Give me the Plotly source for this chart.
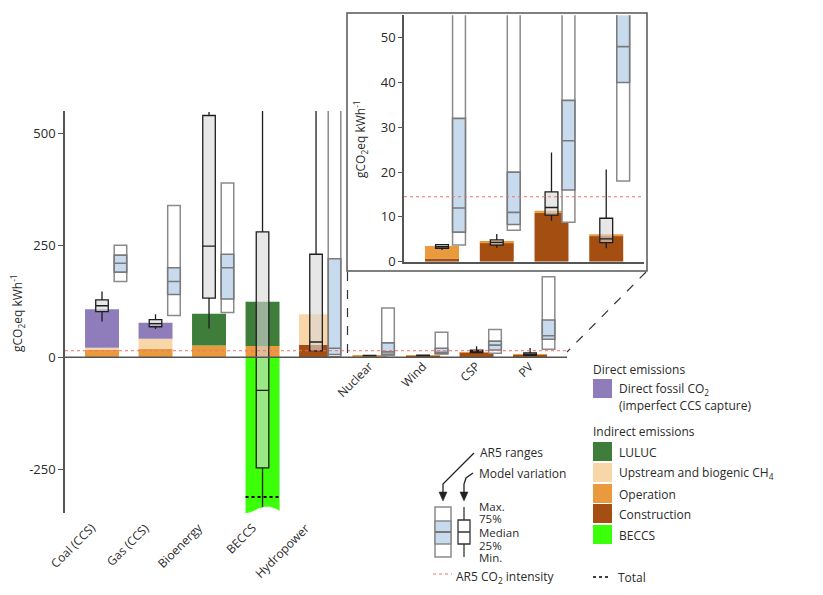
import plotly.graph_objects as go
import numpy as np

W, H = 823, 595
OX, OY = 8, 8  # page body margin of the browser
def px(x): return (x - OX) / W
def py(y): return 1 - (y - OY) / H

# ---------------- data ----------------
categories = ["Coal (CCS)", "Gas (CCS)", "Bioenergy", "BECCS", "Hydropower",
              "Nuclear", "Wind", "CSP", "PV"]
# stacked life-cycle components (gCO2eq/kWh)
construction  = [0, 0, 0, 0, 28, 0.7, 4.3, 10.9, 5.8]
operation     = [17, 19, 26, 25, 0, 2.8, 0.3, 0.5, 0.3]
upstream      = [4, 22, 0, 0, 68, 0, 0, 0, 0]
luluc         = [0, 0, 71, 99, 0, 0, 0, 0, 0]
direct_fossil = [86, 36, 0, 0, 0, 0, 0, 0, 0]
beccs         = [0, 0, 0, -436, 0, 0, 0, 0, 0]

# model variation (box plots)
model_min = [80, 63, 64, -340, 12, 2.6, 3.1, 9.1, 3.0]
model_q1  = [102, 68, 132, -247, 14, 3.0, 3.7, 10.4, 4.25]
model_med = [115, 75, 248, -74, 34, 3.35, 4.3, 12.1, 5.1]
model_q3  = [128, 84, 540, 280, 230, 3.8, 4.85, 15.6, 9.7]
model_max = [147, 96, 548, 700, 700, 3.9, 6.2, 24.4, 20.6]

# AR5 ranges (None = not available)
ar5_min = [169, 93, 100, None, 1, 3.7, 7, 8.8, 18]
ar5_q1  = [190, 140, 130, None, 6, 6.6, 8.3, 16, 40]
ar5_med = [210, 169, 200, None, 20, 12, 11, 27, 48]
ar5_q3  = [228, 200, 230, None, 220, 32, 20, 36, 83]
ar5_max = [250, 339, 389, None, 2200, 110, 56, 62, 180]

ar5_intensity = 14.5
main_ticks = [-250, 0, 250, 500]
inset_ticks = [0, 10, 20, 30, 40, 50]
inset_first = 5  # Nuclear onward shown in the inset

# ---------------- style ----------------
C_DIRECT = "#8E7DBA"
C_LULUC = "#3F7D3A"
C_UP = "#F9D6A8"
C_OP = "#E99A3C"
C_CON = "#A54E12"
C_BECCS = "#3CFF0A"
C_BLUE = "#C7DAEE"
C_GREY = "#8a8a8a"
C_RED = "#F07070"
TXT = "#2a2a2a"
FONT = "Open Sans"

BAR_W = 0.635
BOX_W = 0.235
AR5_OFF = 0.345

fig = go.Figure()

components = [
    ("Construction", construction, C_CON),
    ("Operation", operation, C_OP),
    ("Upstream", upstream, C_UP),
    ("LULUC", luluc, C_LULUC),
    ("Direct", direct_fossil, C_DIRECT),
]

def add_panel(sl, xa, ya, bar_w, ar5_off):
    n = len(categories[sl])
    idx = np.arange(n, dtype=float)
    base = np.zeros(n)
    for name, vals, col in components:
        v = np.array(vals[sl], dtype=float)
        fig.add_trace(go.Bar(x=idx, y=v, base=base.copy(), width=bar_w,
                             marker=dict(color=col, line=dict(width=0)),
                             xaxis=xa, yaxis=ya, showlegend=False, hoverinfo="skip"))
        base = base + v
    bv = np.array(beccs[sl], dtype=float)
    if np.any(bv != 0):
        fig.add_trace(go.Bar(x=idx, y=bv, base=np.zeros(n), width=bar_w,
                             marker=dict(color=C_BECCS, line=dict(width=0)),
                             xaxis=xa, yaxis=ya, showlegend=False, hoverinfo="skip"))
        total = base + bv
        for i in range(n):
            if bv[i] != 0:
                fig.add_trace(go.Scatter(x=[idx[i] - bar_w / 2, idx[i] + bar_w / 2],
                                         y=[total[i], total[i]], mode="lines",
                                         line=dict(color="black", width=2, dash="dot"),
                                         xaxis=xa, yaxis=ya, showlegend=False, hoverinfo="skip"))
    # AR5 ranges
    keep = [i for i, v in enumerate(ar5_min[sl]) if v is not None]
    ax = idx[keep] + ar5_off
    amin = np.array([ar5_min[sl][i] for i in keep], dtype=float)
    amax = np.array([ar5_max[sl][i] for i in keep], dtype=float)
    fig.add_trace(go.Bar(x=ax, y=amax - amin, base=amin, width=BOX_W,
                         marker=dict(color="white", line=dict(color=C_GREY, width=1.5)),
                         xaxis=xa, yaxis=ya, showlegend=False, hoverinfo="skip"))
    q1 = [ar5_q1[sl][i] for i in keep]
    q3 = [ar5_q3[sl][i] for i in keep]
    fig.add_trace(go.Box(x=ax, q1=q1, median=[ar5_med[sl][i] for i in keep], q3=q3,
                         lowerfence=q1, upperfence=q3, width=BOX_W, orientation="v",
                         fillcolor=C_BLUE, line=dict(color="#7a7a7a", width=1.6),
                         whiskerwidth=0, boxpoints=False,
                         xaxis=xa, yaxis=ya, showlegend=False, hoverinfo="skip"))
    # model variation
    fig.add_trace(go.Box(x=idx, q1=model_q1[sl], median=model_med[sl], q3=model_q3[sl],
                         lowerfence=model_min[sl], upperfence=model_max[sl],
                         width=BOX_W, orientation="v",
                         fillcolor="rgba(215,215,215,0.6)", line=dict(color="#1e1e1e", width=1.3),
                         whiskerwidth=0, boxpoints=False,
                         xaxis=xa, yaxis=ya, showlegend=False, hoverinfo="skip"))

add_panel(slice(0, len(categories)), "x", "y", BAR_W, AR5_OFF)
add_panel(slice(inset_first, len(categories)), "x2", "y2", 0.62, 0.31)

axis_common = dict(showgrid=False, zeroline=False, automargin=False)
fig.update_layout(
    width=W, height=H, autosize=False,
    margin=dict(l=0, r=0, t=0, b=0, pad=0),
    paper_bgcolor="white", plot_bgcolor="rgba(0,0,0,0)",
    barmode="overlay", boxmode="overlay",
    font=dict(family=FONT, size=12, color=TXT),
    xaxis=dict(domain=[px(65), px(567)], range=[-0.6916, 8.69], showticklabels=False,
               ticks="", showline=False, **axis_common),
    yaxis=dict(domain=[py(513), py(111)], range=[-348, 550], tickvals=main_ticks,
               ticktext=[str(t) for t in main_ticks],
               ticks="outside", ticklen=5, tickwidth=1.3, tickcolor="#555",
               showline=True, linecolor="#555", linewidth=1.5,
               tickfont=dict(family=FONT, size=13, color=TXT), **axis_common),
    xaxis2=dict(domain=[px(404), px(644)], range=[-0.695, 3.69], showticklabels=False,
                ticks="", showline=True, linecolor="#555", linewidth=1.5,
                anchor="y2", **axis_common),
    yaxis2=dict(domain=[py(261.7), py(15.3)], range=[0, 55], tickvals=inset_ticks,
                ticks="outside", ticklen=4, tickwidth=1.3, tickcolor="#555",
                showline=True, linecolor="#555", linewidth=1.5, anchor="x2",
                tickfont=dict(family=FONT, size=13, color=TXT), **axis_common),
)

shapes = []
# zero line and AR5 intensity lines
shapes.append(dict(type="line", xref="x domain", yref="y", x0=0, x1=1, y0=0, y1=0,
                   line=dict(color="#555", width=1.5), layer="above"))
shapes.append(dict(type="line", xref="x domain", yref="y", x0=0, x1=1,
                   y0=ar5_intensity, y1=ar5_intensity,
                   line=dict(color=C_RED, width=1, dash="dot"), layer="above"))
shapes.append(dict(type="line", xref="x2 domain", yref="y2", x0=0, x1=1,
                   y0=ar5_intensity, y1=ar5_intensity,
                   line=dict(color=C_RED, width=1, dash="dot"), layer="above"))
# inset frame and connectors
shapes.append(dict(type="rect", xref="paper", yref="paper", x0=px(347), x1=px(647),
                   y0=py(271), y1=py(13), line=dict(color="#555", width=1.5)))
shapes.append(dict(type="line", xref="paper", yref="paper", x0=px(347.5), x1=px(347.5),
                   y0=py(272), y1=py(357), line=dict(color="#333", width=1.2, dash="dash")))
shapes.append(dict(type="line", xref="paper", yref="paper", x0=px(646), x1=px(567),
                   y0=py(272), y1=py(352), line=dict(color="#333", width=1.2, dash="dash")))

def rect(x0, y0, x1, y1, fill, line_col=None, lw=0):
    shapes.append(dict(type="rect", xref="paper", yref="paper", x0=px(x0), x1=px(x1),
                       y0=py(y1), y1=py(y0), fillcolor=fill,
                       line=dict(color=line_col or fill, width=lw)))

def seg(x0, y0, x1, y1, col="#222", lw=1.3, dash=None):
    d = dict(color=col, width=lw)
    if dash:
        d["dash"] = dash
    shapes.append(dict(type="line", xref="paper", yref="paper", x0=px(x0), x1=px(x1),
                       y0=py(y0), y1=py(y1), line=d))

def path(points, col="#222", lw=1.3, fill=None):
    s = "M " + " L ".join(f"{px(a):.5f},{py(b):.5f}" for a, b in points)
    if fill:
        s += " Z"
    shapes.append(dict(type="path", xref="paper", yref="paper", path=s,
                       line=dict(color=col, width=lw), fillcolor=fill))

# wavy "broken" bottom of the BECCS bar
wave = [(245, 514), (252, 512), (258, 509), (264, 507), (270, 507), (276, 509),
        (281, 512), (281, 518), (245, 518)]
path(wave, "white", 0.5, "white")

# legend colour squares
rect(593, 379, 612, 398, C_DIRECT)
leg_rows = [(442, C_LULUC), (463, C_UP), (484, C_OP), (504, C_CON), (525, C_BECCS)]
for y0, c in leg_rows:
    rect(593, y0, 612, y0 + 19, c)
seg(593, 577, 611, 577, "black", 1.5, "dot")

# legend AR5 box / model box glyph
rect(435, 507, 451, 557, "white", C_GREY, 1.5)
rect(435, 521, 451, 544, C_BLUE, C_GREY, 1.5)
seg(435, 532, 451, 532, "#777", 2)
seg(464, 507, 464, 557, "#333", 1.3)
rect(458, 520, 470, 544, "white", "#333", 1.3)
seg(458, 532, 470, 532, "#333", 1.5)
seg(433, 574, 452, 574, C_RED, 1.2, "dot")
# arrows
path([(474, 453), (443, 484), (443, 495)], "#222", 1.3)
path([(439, 492), (447, 492), (443, 501)], "#222", 0.5, "#222")
path([(473, 473), (466, 478), (464, 484), (464, 495)], "#222", 1.3)
path([(460, 492), (468, 492), (464, 501)], "#222", 0.5, "#222")

fig.update_layout(shapes=shapes)

ann = []
def text(x, y, s, size=12, xanchor="left", yanchor="middle", **kw):
    ann.append(dict(x=px(x), y=py(y), xref="paper", yref="paper", text=s,
                    showarrow=False, xanchor=xanchor, yanchor=yanchor,
                    font=dict(family=FONT, size=size, color=TXT), **kw))

text(591, 369, "Direct emissions")
text(617, 389, "Direct fossil CO<sub>2</sub>")
text(617, 405, "(imperfect CCS capture)")
text(591, 431, "Indirect emissions")
for (y0, _), lab in zip(leg_rows, ["LULUC", "Upstream and biogenic CH<sub>4</sub>",
                                   "Operation", "Construction", "BECCS"]):
    text(617, y0 + 10, lab)
text(616, 577, "Total")
text(478, 452, "AR5 ranges")
text(477, 473, "Model variation")
for yy, lab in [(506, "Max."), (519, "75%"), (532, "Median"), (545, "25%"), (557, "Min.")]:
    text(477, yy, lab, size=11.5)
text(454, 577, "AR5 CO<sub>2</sub> intensity")

# axis titles
text(17, 313, "gCO<sub>2</sub>eq kWh<sup>-1</sup>", size=12, xanchor="center",
     yanchor="middle", textangle=-90)
text(360, 139, "gCO<sub>2</sub>eq kWh<sup>-1</sup>", size=12, xanchor="center",
     yanchor="middle", textangle=-90)

# category labels
for i, lab in enumerate(categories):
    if i < inset_first:
        xx, yy = i + 0.0, py(517)
    else:
        xx, yy = i + 0.18, py(355)
    ann.append(dict(x=xx, y=yy, xref="x", yref="paper", text=lab,
                    showarrow=False, textangle=-45, xanchor="right", yanchor="top",
                    font=dict(family=FONT, size=12, color=TXT)))

fig.update_layout(annotations=ann)
fig.write_html("out.html")
